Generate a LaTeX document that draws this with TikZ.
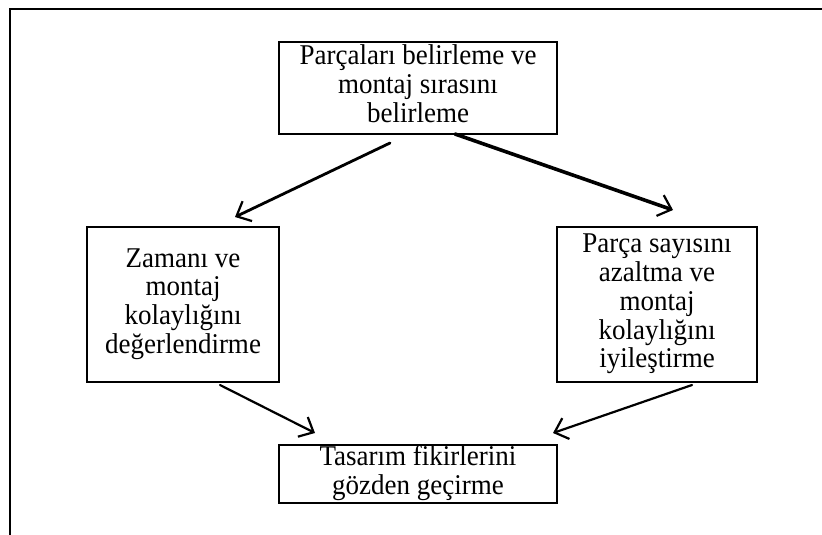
\documentclass[tikz,border=0pt]{standalone}
\usepackage{fontspec}
\setmainfont{Liberation Serif}
\usetikzlibrary{arrows.meta}
% centred lines of box text, set slightly taller than wide
\newcommand{\boxtext}[1]{\scalebox{1}[1.06]{\begin{tabular}{@{}c@{}}#1\end{tabular}}}
\tikzset{
  stepbox/.style={draw, line width=2.4pt, rectangle, inner sep=0pt,
    font=\fontsize{27}{27.2}\selectfont},
  flow/.style={line width=2.2pt, line cap=round,
    -{Straight Barb[length=12pt,width=22pt,line width=2.2pt]}},
  frameline/.style={line width=2.6pt}
}
\begin{document}
\begin{tikzpicture}[x=1pt,y=-1pt]
  \useasboundingbox (0,0) rectangle (822,535);
  % open frame: top and left edges only
  \draw[frameline] (10,535) -- (10,9) -- (822,9);

  \node[stepbox, minimum width=278pt, minimum height=92pt] (top) at (418,88)
    {\boxtext{Parçaları belirleme ve\\montaj sırasını\\belirleme}};
  \node[stepbox, minimum width=192pt, minimum height=155pt] (left) at (183,304.5)
    {\boxtext{Zamanı ve\\montaj\\kolaylığını\\değerlendirme}};
  \node[stepbox, minimum width=200pt, minimum height=155pt] (right) at (657,304.5)
    {\boxtext{Parça sayısını\\azaltma ve\\montaj\\kolaylığını\\iyileştirme}};
  \node[stepbox, minimum width=278pt, minimum height=58pt] (bottom) at (418,474)
    {\raisebox{-4pt}{\boxtext{Tasarım fikirlerini\\gözden geçirme}}};

  % arrow end points near the boxes
  \coordinate (tl) at (390,143);
  \coordinate (lt) at (235,217);
  \coordinate (tr) at (455,134);
  \coordinate (rt) at (673,210);
  \coordinate (lb) at (220,385);
  \coordinate (bl) at (315,433);
  \coordinate (rb) at (692,385);
  \coordinate (br) at (553,433);

  \draw[flow, line width=2.8pt] (tl) -- (lt);
  \draw[flow, line width=3.6pt] (tr) -- (rt);
  \draw[flow] (lb) -- (bl);
  \draw[flow] (rb) -- (br);
\end{tikzpicture}
\end{document}
